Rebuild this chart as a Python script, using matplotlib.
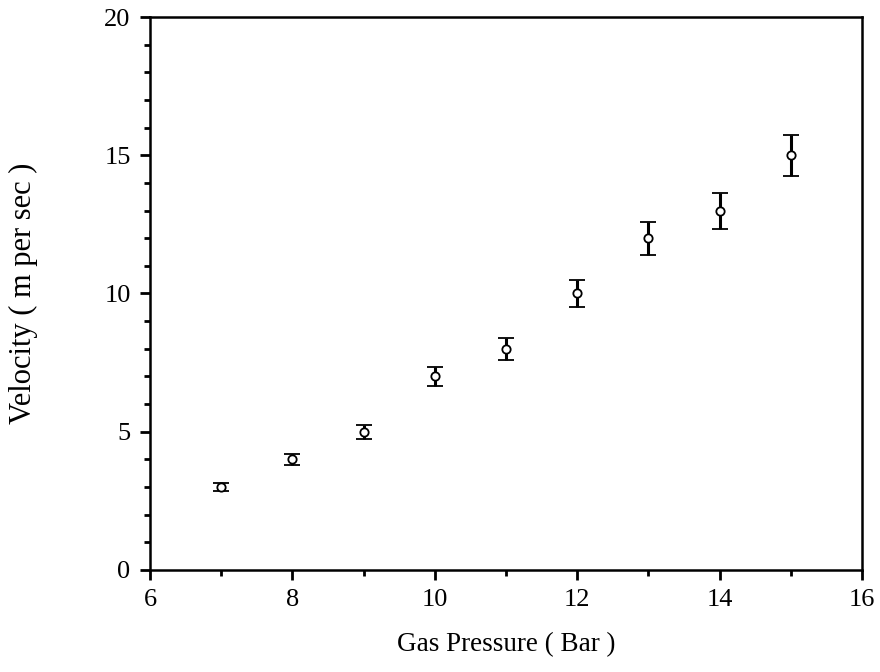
import numpy as np
import matplotlib
matplotlib.use("Agg")
import matplotlib.pyplot as plt
from matplotlib.ticker import MultipleLocator

plt.rcParams['font.family'] = ['Liberation Serif', 'DejaVu Serif']

# gas pressure (bar) vs velocity (m/s) with error bars
pressure = [7, 8, 9, 10, 11, 12, 13, 14, 15]
velocity = [3, 4, 5, 7, 8, 10, 12, 13, 15]
err = [0.15, 0.2, 0.25, 0.35, 0.4, 0.5, 0.6, 0.65, 0.75]

fig = plt.figure(figsize=(8.8, 6.72), dpi=100)
ax = fig.add_axes([0.1705, 0.1518, 0.809, 0.8229])

ax.errorbar(pressure, velocity, yerr=err, fmt='o', color='black',
            mfc='white', mec='black', ms=6, mew=1.3,
            elinewidth=2.2, capsize=5.5, capthick=2.2)

ax.set_xlim(6, 16)
ax.set_ylim(0, 20)
ax.xaxis.set_major_locator(MultipleLocator(2))
ax.xaxis.set_minor_locator(MultipleLocator(1))
ax.yaxis.set_major_locator(MultipleLocator(5))
ax.yaxis.set_minor_locator(MultipleLocator(1))
ax.tick_params(which='major', direction='out', length=7, width=2,
               labelsize=19, pad=7)
ax.tick_params(which='minor', direction='out', length=4, width=2)

for s in ax.spines.values():
    s.set_linewidth(1.8)

ax.set_xlabel('Gas Pressure ( Bar )', fontsize=19.5)
ax.set_ylabel('Velocity ( m per sec )', fontsize=22)
ax.xaxis.set_label_coords(0.5, -0.112)
ax.yaxis.set_label_coords(-0.157, 0.5)

fig.savefig('out.png', dpi=100)
